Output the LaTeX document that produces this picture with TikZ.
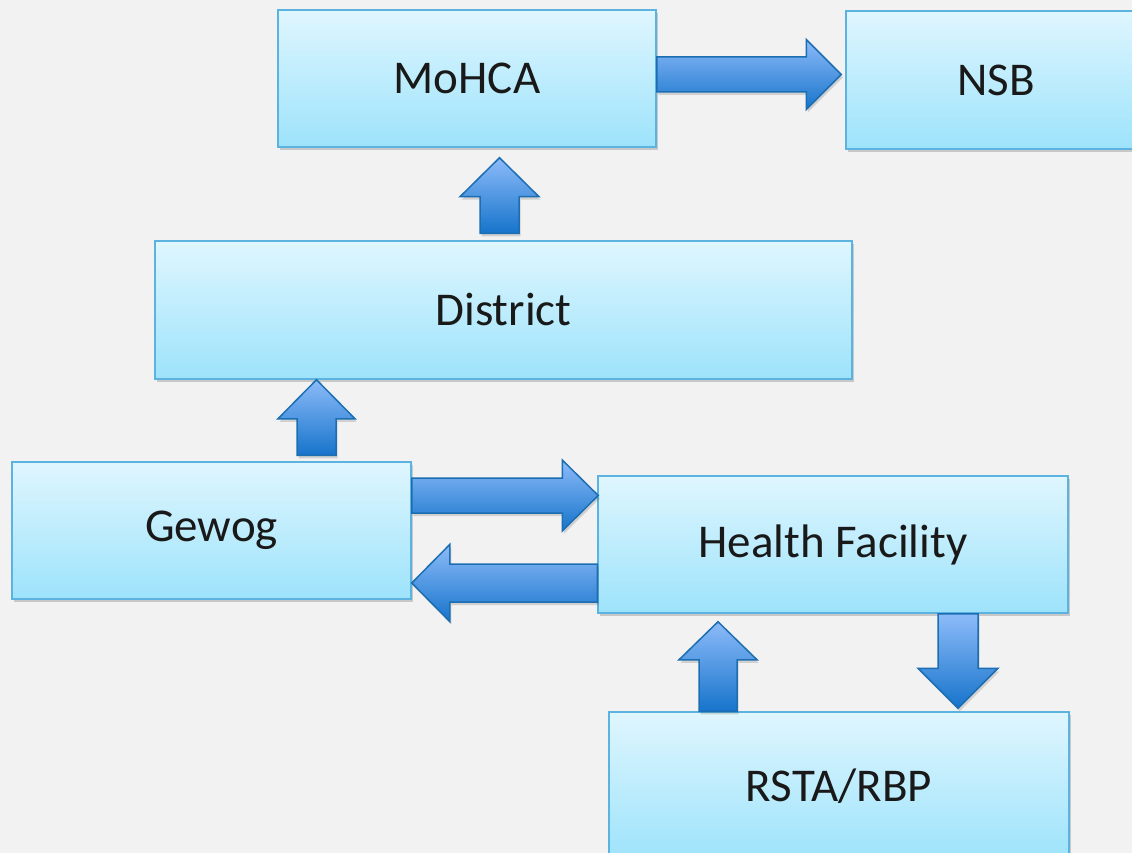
\documentclass[tikz,border=0pt]{standalone}
\usepackage{fontspec}
\setmainfont{Carlito}
\usetikzlibrary{calc,shadows}
\definecolor{bgc}{HTML}{F2F2F2}
\definecolor{boxtop}{HTML}{DFF6FE}
\definecolor{boxbot}{HTML}{9DE3FB}
\definecolor{boxline}{HTML}{5CB3DF}
\definecolor{arrtop}{HTML}{8DBBF9}
\definecolor{arrbot}{HTML}{1674CB}
\definecolor{arrline}{HTML}{1C6EB2}
\tikzset{
  orgbox/.style={draw=boxline, line width=1.5pt, top color=boxtop, bottom color=boxbot,
    shading=axis, inner sep=0pt, font=\fontsize{47}{56}\selectfont, text=black!90,
    drop shadow={shadow xshift=1.5pt, shadow yshift=-3pt, opacity=0.25, fill=black!70}},
  blockarrow/.style={draw=arrline, line width=1.5pt, top color=arrtop, bottom color=arrbot,
    shading=axis, line join=miter,
    drop shadow={shadow xshift=1.5pt, shadow yshift=-3pt, opacity=0.2, fill=black!70}}
}
% horizontal block arrow: #1 start, #2 tip, #3 half shaft, #4 half head, #5 signed head length
\newcommand\harrow[5]{\path[blockarrow] let \p1=(#1),\p2=(#2) in
  (\x1,{\y1+#3pt}) -- ({\x2-(#5pt)},{\y1+#3pt}) -- ({\x2-(#5pt)},{\y1+#4pt}) -- (\x2,\y1)
  -- ({\x2-(#5pt)},{\y1-#4pt}) -- ({\x2-(#5pt)},{\y1-#3pt}) -- (\x1,{\y1-#3pt}) -- cycle;}
% vertical block arrow: #1 start, #2 tip, #3 half shaft, #4 half head, #5 signed head length
\newcommand\varrow[5]{\path[blockarrow] let \p1=(#1),\p2=(#2) in
  ({\x1+#3pt},\y1) -- ({\x1+#3pt},{\y2-(#5pt)}) -- ({\x1+#4pt},{\y2-(#5pt)}) -- (\x1,\y2)
  -- ({\x1-#4pt},{\y2-(#5pt)}) -- ({\x1-#3pt},{\y2-(#5pt)}) -- ({\x1-#3pt},\y1) -- cycle;}
\begin{document}
\begin{tikzpicture}[x=1pt,y=-1pt]
\useasboundingbox (0,0) rectangle (1132,853);
\fill[bgc] (0,0) rectangle (1132,853);
\clip (0,0) rectangle (1132,853);

\node[orgbox, minimum width=378pt, minimum height=137pt] (moh) at (467,78.5) {\raisebox{-2pt}{MoHCA}};
\node[orgbox, minimum width=300pt, minimum height=138pt] (nsb) at (996,80) {\raisebox{-2pt}{NSB}};
\node[orgbox, minimum width=697pt, minimum height=138pt] (dis) at (503.5,310) {\raisebox{-2pt}{District}};
\node[orgbox, minimum width=399pt, minimum height=137pt] (gew) at (211.5,530.5) {\raisebox{-2pt}{Gewog}};
\node[orgbox, minimum width=470pt, minimum height=137pt] (hf) at (833,544.5) {\raisebox{-2pt}{Health Facility}};
\node[orgbox, minimum width=460pt, minimum height=148pt] (rsta) at (839,786) {RSTA/RBP};

% MoHCA -> NSB
\harrow{$(moh.east)+(0,-4)$}{$(nsb.west)+(-4,0)$}{17.5}{35}{35}
% District -> MoHCA
\varrow{$(dis.north)+(-4,-7)$}{$(moh.south)+(0,10)$}{19.5}{39.5}{39}
% Gewog -> District
\varrow{$(gew.north)+(105,-6)$}{dis.south}{19.5}{38.5}{39}
% Gewog -> Health Facility
\harrow{$(gew.east)+(0,-35)$}{$(hf.west)+(1,0)$}{17.5}{35.5}{36}
% Health Facility -> Gewog
\harrow{$(hf.west)+(0,38.5)$}{gew.east}{19}{38.5}{-38}
% RSTA/RBP -> Health Facility
\varrow{$(rsta.north)+(-121,0)$}{$(hf.south)+(0,8)$}{19}{39}{38}
% Health Facility -> RSTA/RBP
\varrow{$(hf.south)+(125,0)$}{$(rsta.north)+(0,-3)$}{20}{40}{-40}
\end{tikzpicture}
\end{document}
